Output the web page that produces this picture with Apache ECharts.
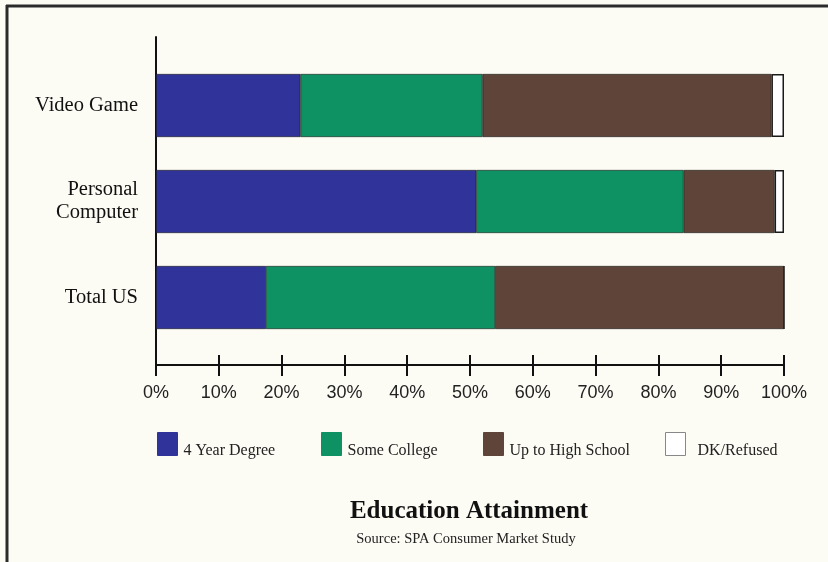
<!DOCTYPE html>
<html>
<head>
<meta charset="utf-8">
<script src="https://cdn.jsdelivr.net/npm/echarts@6/dist/echarts.min.js"></script>
<style>
html,body{margin:0;padding:0;background:#fdfcf4;}
#chart{width:828px;height:562px;}
</style>
</head>
<body>
<div id="chart"></div>
<script>
const categories = ['Video Game', 'Personal\nComputer', 'Total US'];
const seriesNames = ['4 Year Degree', 'Some College', 'Up to High School', 'DK/Refused'];
const fourYear = [23, 51, 17.5];
const someCollege = [29, 33, 36.5];
const highSchool = [46, 14.5, 46];
const dkRefused = [2, 1.5, 0];
const xTicks = [0, 10, 20, 30, 40, 50, 60, 70, 80, 90, 100];
const titleText = 'Education Attainment';
const sourceText = 'Source: SPA Consumer Market Study';

const colors = ['#30339a', '#0e9163', '#5e4439', '#ffffff'];
const values = [fourYear, someCollege, highSchool, dkRefused];

const chart = echarts.init(document.getElementById('chart'), null, {renderer: 'canvas'});

const series = seriesNames.map((n, i) => ({
  name: n,
  type: 'bar',
  stack: 'total',
  barWidth: 63,
  xAxisIndex: 0,
  yAxisIndex: 0,
  data: values[i],
  itemStyle: {color: colors[i], borderColor: '#1a1a1a', borderWidth: i === 3 ? 1.5 : 0.6},
  emphasis: {disabled: true}
}));

const legendLefts = [152, 316, 478, 660];
const legends = seriesNames.map((n, i) => ({
  data: [{name: n, itemStyle: {color: colors[i], borderColor: i === 3 ? '#888' : colors[i], borderWidth: 1}}],
  left: legendLefts[i],
  top: 427,
  itemWidth: 20,
  itemHeight: 23,
  itemGap: 0,
  icon: 'rect',
  selectedMode: false,
  formatter: nm => '{t|' + nm + '}',
  textStyle: {
    rich: {t: {fontFamily: 'Liberation Serif', fontSize: 16, color: '#222', padding: [14, 0, 0, i === 3 ? 7 : 1]}}
  }
}));

const xMin = xTicks[0], xMax = xTicks[xTicks.length - 1];

chart.setOption({
  backgroundColor: '#fdfcf4',
  animation: false,
  title: [
    {text: titleText, left: 464, top: 494, textAlign: 'center',
     textStyle: {fontFamily: 'Liberation Serif', fontSize: 25, fontWeight: 'bold', color: '#111'}},
    {text: sourceText, left: 461, top: 527, textAlign: 'center',
     textStyle: {fontFamily: 'Liberation Serif', fontSize: 14.5, fontWeight: 'normal', color: '#222'}}
  ],
  legend: legends,
  grid: [
    {left: 156, right: 44, top: 57.5, bottom: 216.5, containLabel: false},
    {left: 156, right: 44, top: 37, bottom: 197, containLabel: false}
  ],
  xAxis: [
    {gridIndex: 0, type: 'value', min: xMin, max: xMax, interval: 10, show: false},
    {gridIndex: 1, type: 'value', min: xMin, max: xMax, interval: 10, position: 'bottom',
     axisLine: {show: true, lineStyle: {color: '#111', width: 2}},
     axisTick: {show: true, inside: true, length: 10, lineStyle: {color: '#111', width: 2}},
     splitLine: {show: false},
     axisLabel: {margin: 19, formatter: v => v + '%', fontFamily: 'Liberation Sans', fontSize: 18, color: '#222'}},
    {gridIndex: 1, type: 'value', min: xMin, max: xMax, interval: 10, position: 'bottom',
     axisLine: {show: false},
     axisTick: {show: true, inside: false, length: 11, lineStyle: {color: '#111', width: 2}},
     splitLine: {show: false},
     axisLabel: {show: false}}
  ],
  yAxis: [
    {gridIndex: 0, type: 'category', data: categories, inverse: true,
     axisLine: {show: false},
     axisTick: {show: false},
     axisLabel: {margin: 18, fontFamily: 'Liberation Serif', fontSize: 20.5, color: '#111', lineHeight: 23, align: 'right'}},
    {gridIndex: 1, type: 'value', min: 0, max: 1,
     axisLine: {show: true, lineStyle: {color: '#111', width: 2}},
     axisTick: {show: false}, axisLabel: {show: false}, splitLine: {show: false}}
  ],
  series: series,
  graphic: [
    {type: 'line', shape: {x1: 6, y1: 6, x2: 828, y2: 6}, style: {stroke: '#2a2a2a', lineWidth: 3}},
    {type: 'line', shape: {x1: 7, y1: 5, x2: 7, y2: 562}, style: {stroke: '#2a2a2a', lineWidth: 3}}
  ]
});
</script>
</body>
</html>
